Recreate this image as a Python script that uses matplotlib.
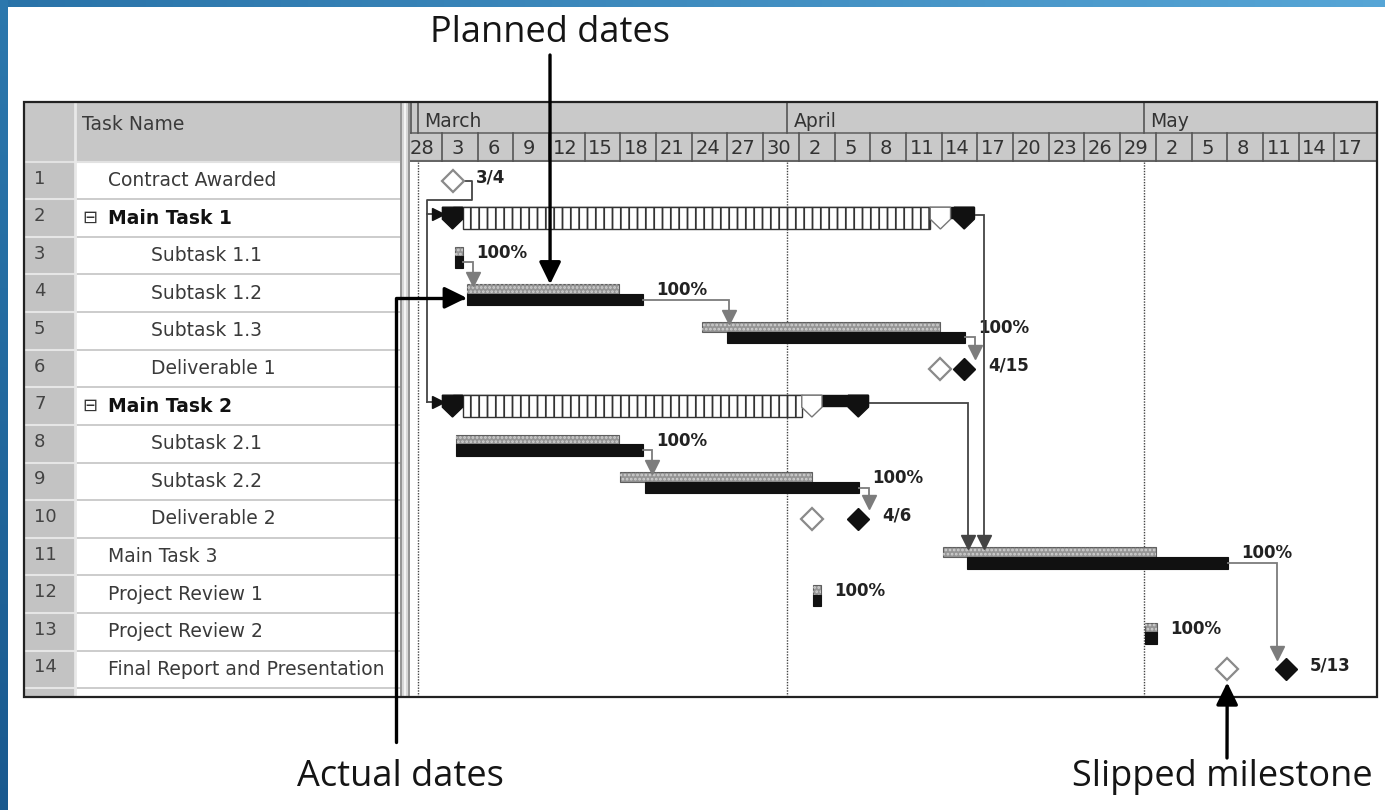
import numpy as np
import matplotlib.pyplot as plt
from matplotlib.patches import Rectangle, Polygon

plt.rcParams['hatch.linewidth'] = 1.3

# ---- chart data (day numbers count from 1 March: 0 = start of Mar 1) ----
task_names = ["Contract Awarded", "Main Task 1", "Subtask 1.1", "Subtask 1.2",
              "Subtask 1.3", "Deliverable 1", "Main Task 2", "Subtask 2.1",
              "Subtask 2.2", "Deliverable 2", "Main Task 3", "Project Review 1",
              "Project Review 2", "Final Report and Presentation"]
task_level = [1, 0, 2, 2, 2, 2, 0, 2, 2, 2, 1, 1, 1, 1]   # 0 = summary task

month_names = ["March", "April", "May"]
month_start = [0, 31, 61]
day_labels = ["28", "3", "6", "9", "12", "15", "18", "21", "24", "27", "30",
              "2", "5", "8", "11", "14", "17", "20", "23", "26", "29",
              "2", "5", "8", "11", "14", "17"]
first_cell_day = -1

bar_rows = [3, 4, 5, 8, 9, 11, 12, 13]
plan_start = [3.1, 4.1, 23.9, 3.2, 17.0, 44.1, 33.2, 61.1]
plan_end = [3.8, 16.9, 43.9, 16.9, 33.1, 62.0, 33.9, 62.1]
act_start = [3.1, 4.1, 26.0, 3.2, 19.1, 46.1, 33.2, 61.1]
act_end = [3.8, 18.9, 46.0, 18.9, 37.1, 68.1, 33.9, 62.1]
pct_done = [100, 100, 100, 100, 100, 100, 100, 100]

sum_rows = [2, 7]
sum_start = [2.9, 2.9]
sum_plan_end = [43.9, 33.1]
sum_act_end = [45.9, 37.0]

ms_rows = [1, 6, 10, 14]
ms_plan = [2.9, 43.9, 33.1, 68.0]
ms_actual = [None, 45.9, 37.0, 72.9]
ms_labels = ["3/4", "4/15", "4/6", "5/13"]

# finish-to-start links (predecessor row, successor row)
links = [(3, 4), (4, 5), (5, 6), (8, 9), (9, 10), (11, 14), (2, 11), (7, 11)]

# ---- layout in pixels ----
W, H = 1385, 810
TOP, HDR_BOT, BOT = 101.7, 161.7, 697
LEFT, NUM_R, SPLIT, CHART_L, RIGHT = 24, 75, 400, 410, 1377
ROW_H = 37.6
X0, PX_DAY = 418, 11.9
N_VIS = (BOT - HDR_BOT) / ROW_H
HDR_ROWS = (HDR_BOT - TOP) / ROW_H
XLIM = ((CHART_L - X0) / PX_DAY, (RIGHT - X0) / PX_DAY)
CAP = 0.85

TXT = '#3a3a3a'
LINK = '#7c7c7c'
LINK_DARK = '#444444'


def rect(x0, y0, x1, y1):
    return [x0 / W, 1 - y1 / H, (x1 - x0) / W, (y1 - y0) / H]


def bare(a):
    a.set_xticks([])
    a.set_yticks([])
    for s in a.spines.values():
        s.set_visible(False)


fig = plt.figure(figsize=(W / 100, H / 100), dpi=100)
fig.patch.set_facecolor('white')

# ---- task table ----
tab = fig.add_axes(rect(LEFT, TOP, CHART_L, BOT))
bare(tab)
tab.set_xlim(LEFT, CHART_L)
tab.set_ylim(N_VIS, -HDR_ROWS)
tab.add_patch(Rectangle((LEFT, -HDR_ROWS), SPLIT - LEFT, HDR_ROWS, fc='#c7c7c7', ec='none'))
tab.add_patch(Rectangle((LEFT, 0), NUM_R - LEFT, N_VIS, fc='#c3c3c3', ec='none'))
for k in range(1, 15):
    tab.plot([NUM_R, SPLIT], [k, k], color='#c4c4c4', lw=1.2)
    tab.plot([LEFT, NUM_R], [k, k], color='#e6e6e6', lw=1.5)
tab.plot([LEFT, SPLIT], [0, 0], color='#e2e2e2', lw=1.5)
tab.plot([NUM_R, NUM_R], [-HDR_ROWS, N_VIS], color='#e8e8e8', lw=2)
tab.add_patch(Rectangle((SPLIT, -HDR_ROWS), CHART_L - SPLIT, HDR_ROWS + N_VIS,
                        fc='#d6d6d6', ec='none'))
tab.plot([SPLIT + 1, SPLIT + 1], [-HDR_ROWS, N_VIS], color='#8a8a8a', lw=1.2)
tab.plot([SPLIT + 5, SPLIT + 5], [-HDR_ROWS, N_VIS], color='#f4f4f4', lw=1.5)
tab.plot([CHART_L - 1, CHART_L - 1], [-HDR_ROWS, N_VIS], color='#8a8a8a', lw=1.2)
tab.text(82, -1.0, "Task Name", fontsize=13.5, color=TXT, va='center')

for i, (name, lev) in enumerate(zip(task_names, task_level)):
    y = i + 0.5
    tab.text(34, y - 0.05, str(i + 1), fontsize=13, color='#444', va='center')
    if lev == 0:
        tab.text(82, y, "\u229f", fontsize=13, color='#333', va='center')
        tab.text(108, y, name, fontsize=13.5, color='#111', va='center', fontweight='bold')
    else:
        tab.text(108 if lev == 1 else 151, y, name, fontsize=13.5, color=TXT, va='center')

# ---- timescale header ----
hdr = fig.add_axes(rect(CHART_L, TOP, RIGHT, HDR_BOT))
bare(hdr)
hdr.set_facecolor('#c9c9c9')
hdr.set_xlim(*XLIM)
hdr.set_ylim(1, 0)
hdr.plot(XLIM, [0.53, 0.53], color='#666', lw=1.2)
hdr.plot(XLIM, [0.985, 0.985], color='#666', lw=1.5)
hdr.plot([XLIM[0] + 0.1] * 2, [0, 0.53], color='#555', lw=1.2)
for m, d in zip(month_names, month_start):
    hdr.plot([d, d], [0, 0.53], color='#555', lw=1.2)
    hdr.text(d + 0.55, 0.33, m, fontsize=13.5, color='#333', va='center')
for k, lab in enumerate(day_labels):
    x0 = first_cell_day + 3 * k
    hdr.plot([x0, x0], [0.53, 1], color='#555', lw=1.2)
    hdr.text(x0 + 1.35, 0.78, lab, fontsize=14, color='#333', ha='center',
             va='center', clip_on=True)

# ---- Gantt chart ----
ax = fig.add_axes(rect(CHART_L, HDR_BOT, RIGHT, BOT))
bare(ax)
ax.set_facecolor('white')
ax.set_xlim(*XLIM)
ax.set_ylim(N_VIS, 0)
ax.vlines(month_start, 0, N_VIS, colors='#444', linestyles=(0, (1, 1)), lw=1)

end_of, start_of, kind = {}, {}, {}

for i, r in enumerate(bar_rows):
    c = r - 0.5
    ax.add_patch(Rectangle((plan_start[i], c - 0.24), plan_end[i] - plan_start[i], 0.26,
                           fc='#959595', ec='#5e5e5e', lw=0.8, zorder=3))
    ax.add_patch(Rectangle((plan_start[i], c - 0.24), plan_end[i] - plan_start[i], 0.26,
                           fc='none', ec='#d0d0d0', lw=0, hatch='....', zorder=3))
    ax.add_patch(Rectangle((act_start[i], c + 0.02), act_end[i] - act_start[i], 0.3,
                           fc='#111', ec='#111', lw=0.8, zorder=4))
    ax.text(act_end[i] + 1.1, c - 0.08, f"{pct_done[i]}%", fontsize=12,
            fontweight='bold', color='#222', va='center')
    end_of[r], start_of[r], kind[r] = act_end[i], act_start[i], 'bar'


def cap(x, c, color, edge):
    w = CAP
    pts = [(x - w, c - 0.29), (x + w, c - 0.29), (x + w, c + 0.03),
           (x, c + 0.29), (x - w, c + 0.03)]
    ax.add_patch(Polygon(pts, closed=True, fc=color, ec=edge, lw=1, zorder=6))


for i, r in enumerate(sum_rows):
    c = r - 0.5
    s, pf, af = sum_start[i], sum_plan_end[i], sum_act_end[i]
    ax.add_patch(Rectangle((s, c - 0.29), af + CAP - s, 0.3, fc='#111', ec='#111', zorder=3))
    ax.add_patch(Rectangle((s + CAP, c - 0.29), pf - s - 2 * CAP, 0.58, fc='white',
                           ec='#333', hatch='||', lw=1, zorder=4))
    cap(pf, c, 'white', '#777')
    cap(s, c, '#111', '#111')
    cap(af, c, '#111', '#111')
    end_of[r], start_of[r], kind[r] = af + CAP, s, 'sum'

for i, r in enumerate(ms_rows):
    c = r - 0.5
    ax.plot(ms_plan[i], c, marker='D', ms=11, mfc='white', mec='#8a8a8a', mew=1.6, zorder=6)
    last = ms_plan[i]
    if ms_actual[i] is not None:
        ax.plot(ms_actual[i], c, marker='D', ms=11, mfc='#111', mec='#111', zorder=6)
        last = ms_actual[i]
    ax.text(last + 2.0, c - 0.09, ms_labels[i], fontsize=12, fontweight='bold',
            color='#222', va='center')
    end_of[r], start_of[r], kind[r] = last, last, 'ms'

# link lines
for p, s in links:
    cp, cs = p - 0.5, s - 0.5
    e = end_of[p]
    y0 = cp - 0.08 if kind[p] == 'sum' else cp + 0.17
    col = LINK_DARK if kind[p] == 'sum' else LINK
    if kind[s] == 'ms':
        xt = max(e + 0.8, start_of[s] - 0.7)
        tip = cs - 0.3
    else:
        xt = max(e + 0.8, start_of[s] + 0.1)
        tip = cs - 0.24
    ax.plot([e, xt, xt], [y0, y0, tip - 0.16], color=col, lw=1.3, zorder=5,
            solid_joinstyle='miter')
    ax.plot(xt, tip - 0.14, marker='v', ms=10, color=col, mec=col, zorder=7)

# start link from contract award to both main tasks
c1 = ms_rows[0] - 0.5
xr = ms_plan[0] + 1.6
xl = sum_start[0] - 2.15
ax.plot([ms_plan[0] + 0.6, xr, xr, xl, xl], [c1, c1, 1.03, 1.03, sum_rows[1] - 0.6],
        color=LINK_DARK, lw=1.3, zorder=5)
for i, r in enumerate(sum_rows):
    ax.plot([xl, sum_start[i] - CAP - 0.3], [r - 0.6, r - 0.6], color=LINK_DARK, lw=1.3, zorder=5)
    ax.plot(sum_start[i] - CAP - 0.35, r - 0.6, marker='>', ms=8, color='#111', zorder=7)

# ---- overlay: page frame, blue border and callouts ----
ov = fig.add_axes([0, 0, 1, 1])
ov.axis('off')
ov.set_xlim(0, W)
ov.set_ylim(H, 0)
ov.add_patch(Rectangle((LEFT, TOP), RIGHT - LEFT, BOT - TOP, fill=False, ec='#222', lw=1.6))
grad = np.linspace(0, 1, 256)
top_rgb = np.array([[[0.16 + 0.18 * g, 0.45 + 0.2 * g, 0.66 + 0.18 * g] for g in grad]])
left_rgb = np.array([[[0.17 - 0.07 * g, 0.47 - 0.12 * g, 0.68 - 0.12 * g]] for g in grad])
ov.imshow(top_rgb, extent=(0, W, 7, 0), aspect='auto')
ov.imshow(left_rgb, extent=(0, 8, H, 0), aspect='auto')
ov.set_xlim(0, W)
ov.set_ylim(H, 0)

callout = dict(fontsize=26, color='#151515', family=['Open Sans', 'DejaVu Sans'],
               ha='center', va='center')
head = dict(arrowstyle='-|>,head_length=0.45,head_width=0.22', mutation_scale=30,
            lw=2.4, color='black', shrinkA=0, shrinkB=0)
ov.text(550, 33, "Planned dates", **callout)
ov.annotate('', xy=(11.1, 3.26), xycoords=ax.transData, xytext=(550, 55),
            textcoords='data', arrowprops=head)
ov.text(400, 777, "Actual dates", **callout)
ov.annotate('', xy=(act_start[1], 3.62), xycoords=ax.transData, xytext=(396, 742),
            textcoords='data',
            arrowprops=dict(head, connectionstyle='angle,angleA=90,angleB=0,rad=0'))
ov.text(1222, 777, "Slipped milestone", **callout)
ov.annotate('', xy=(ms_plan[3], 13.85), xycoords=ax.transData, xytext=(1227, 758),
            textcoords='data', arrowprops=head)

fig.savefig('out.png', dpi=100)
